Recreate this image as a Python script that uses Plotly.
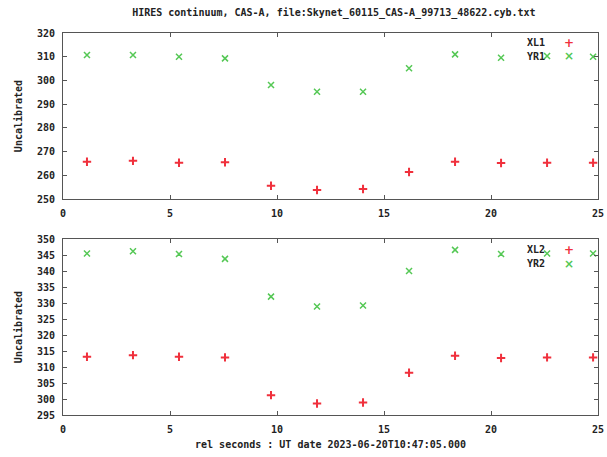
import plotly.graph_objects as go

# ---- data ----
t = [1.12, 3.27, 5.42, 7.57, 9.72, 11.87, 14.02, 16.17, 18.32, 20.47, 22.62, 24.77]
xl1 = [265.7, 266.1, 265.3, 265.5, 255.6, 253.8, 254.2, 261.4, 265.7, 265.2, 265.3, 265.3]
yr1 = [310.7, 310.7, 310.0, 309.3, 298.1, 295.2, 295.2, 305.1, 311.0, 309.6, 310.3, 310.0]
xl2 = [313.2, 313.7, 313.2, 313.0, 301.2, 298.6, 298.9, 308.2, 313.5, 312.8, 313.0, 313.0]
yr2 = [345.5, 346.2, 345.3, 343.8, 332.0, 328.9, 329.2, 340.0, 346.6, 345.3, 345.5, 345.5]

x_ticks = [0, 5, 10, 15, 20, 25]
y1_ticks = [250, 260, 270, 280, 290, 300, 310, 320]
y2_ticks = [295, 300, 305, 310, 315, 320, 325, 330, 335, 340, 345, 350]

title_text = "HIRES continuum, CAS-A, file:Skynet_60115_CAS-A_99713_48622.cyb.txt"
xlabel = "rel seconds : UT date 2023-06-20T10:47:05.000"
ylabel = "Uncalibrated"

RED = "#f0303c"
GREEN = "#55c855"
FONT = "DejaVu Sans Mono"
AXC = "#555555"
TXT = "#222222"

plus_marker = dict(symbol="cross-thin", size=6, line=dict(color=RED, width=2))
x_marker = dict(symbol="x-thin", size=6, line=dict(color=GREEN, width=1.5))

fig = go.Figure()
fig.add_trace(go.Scatter(x=t, y=xl1, mode="markers", name="XL1", xaxis="x", yaxis="y", marker=plus_marker))
fig.add_trace(go.Scatter(x=t, y=yr1, mode="markers", name="YR1", xaxis="x", yaxis="y", marker=x_marker))
fig.add_trace(go.Scatter(x=t, y=xl2, mode="markers", name="XL2", xaxis="x2", yaxis="y2", marker=plus_marker))
fig.add_trace(go.Scatter(x=t, y=yr2, mode="markers", name="YR2", xaxis="x2", yaxis="y2", marker=x_marker))

axcommon = dict(showline=True, linecolor=AXC, linewidth=1, mirror="ticks", ticks="inside",
                ticklen=4, tickcolor=AXC, showgrid=False, zeroline=False, automargin=False,
                ticklabelstandoff=5,
                tickfont=dict(family=FONT, size=10, color=TXT, weight="bold"))
tfont = dict(family=FONT, size=10, color=TXT, weight="bold")

fig.update_layout(
    width=607, height=457,
    margin=dict(l=63, r=9, t=33, b=42, autoexpand=False),
    paper_bgcolor="white", plot_bgcolor="white",
    showlegend=False,
    title=dict(text=title_text, x=0.55, xanchor="center", y=1 - 12 / 457, yanchor="middle",
               font=tfont),
    xaxis=dict(domain=[0, 1], anchor="y", range=[0, 25], tickvals=x_ticks, **axcommon),
    yaxis=dict(domain=[0.5654, 1], anchor="x", range=[250, 320], tickvals=y1_ticks,
               title=dict(text=ylabel, standoff=12, font=tfont), **axcommon),
    xaxis2=dict(domain=[0, 1], anchor="y2", range=[0, 25], tickvals=x_ticks,
                title=dict(text=xlabel, standoff=6, font=tfont), **axcommon),
    yaxis2=dict(domain=[0, 0.4607], anchor="x2", range=[295, 350], tickvals=y2_ticks,
                title=dict(text=ylabel, standoff=12, font=tfont), **axcommon),
)

# gnuplot-style key: label followed by sample on the right
def key(label, glyph, color, xref, yref, ypos):
    fig.add_annotation(text=label, xref=xref, yref=yref, x=0.905, y=ypos, xanchor="right",
                       yanchor="middle", showarrow=False, font=tfont)
    fig.add_annotation(text=glyph, xref=xref, yref=yref, x=0.945, y=ypos, xanchor="center",
                       yanchor="middle", showarrow=False,
                       font=dict(family="DejaVu Sans", size=12, color=color, weight="bold"))

key("XL1", "+", RED, "x domain", "y domain", 0.94)
key("YR1", "×", GREEN, "x domain", "y domain", 0.86)
key("XL2", "+", RED, "x2 domain", "y2 domain", 0.94)
key("YR2", "×", GREEN, "x2 domain", "y2 domain", 0.86)

fig.write_html("out.html", post_script="document.body.style.margin='0px';",
               config={"displayModeBar": False})
